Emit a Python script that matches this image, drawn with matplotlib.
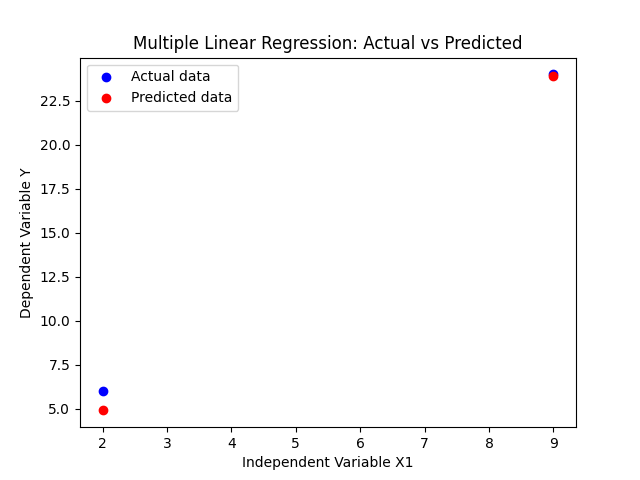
import numpy as np
import matplotlib
matplotlib.use("Agg")
import matplotlib.pyplot as plt

# Data
x1 = np.array([2, 9])
y_actual = np.array([6.0, 24.0])
y_pred = np.array([4.9, 23.9])

fig, ax = plt.subplots(figsize=(6.4, 4.8), dpi=100)
ax.scatter(x1, y_actual, color='blue', label='Actual data')
ax.scatter(x1, y_pred, color='red', label='Predicted data')
ax.set_title("Multiple Linear Regression: Actual vs Predicted")
ax.set_xlabel("Independent Variable X1")
ax.set_ylabel("Dependent Variable Y")
ax.legend()

fig.savefig("out.png")
